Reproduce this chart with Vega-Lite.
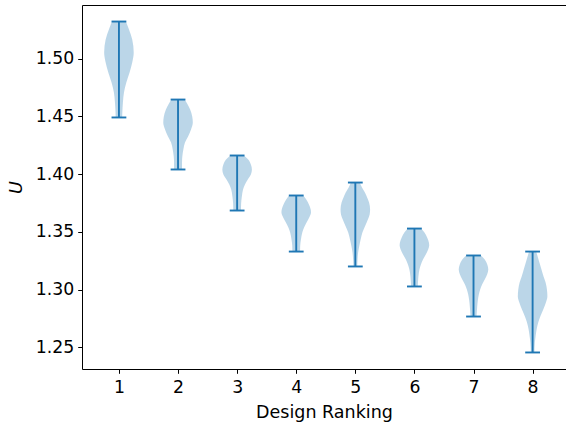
{
  "$schema": "https://vega.github.io/schema/vega-lite/v6.json",
  "width": 484,
  "height": 364,
  "autosize": {"type": "none"},
  "padding": {"left": 82, "top": 5, "right": 0, "bottom": 55},
  "config": {
    "font": "DejaVu Sans",
    "view": {"stroke": null},
    "axis": {
      "grid": false,
      "domainColor": "#000000",
      "domainWidth": 1,
      "tickColor": "#000000",
      "tickWidth": 1,
      "tickSize": 4.3,
      "labelFont": "DejaVu Sans",
      "labelFontSize": 17.3,
      "labelColor": "#000000",
      "labelPadding": 4,
      "titleFont": "DejaVu Sans",
      "titleFontSize": 17.5,
      "titleFontWeight": "normal",
      "titleColor": "#000000"
    }
  },
  "datasets": {
    "violins": [
      {"rank": 1, "u": 1.4490, "d": 0.22}, {"rank": 1, "u": 1.4533, "d": 0.23}, {"rank": 1, "u": 1.4619, "d": 0.27},
      {"rank": 1, "u": 1.4706, "d": 0.34}, {"rank": 1, "u": 1.4792, "d": 0.50}, {"rank": 1, "u": 1.4879, "d": 0.72},
      {"rank": 1, "u": 1.4965, "d": 0.90}, {"rank": 1, "u": 1.5052, "d": 1.00}, {"rank": 1, "u": 1.5164, "d": 0.90},
      {"rank": 1, "u": 1.5251, "d": 0.68}, {"rank": 1, "u": 1.5320, "d": 0.47},
      {"rank": 2, "u": 1.4040, "d": 0.27}, {"rank": 2, "u": 1.4100, "d": 0.27}, {"rank": 2, "u": 1.4152, "d": 0.29},
      {"rank": 2, "u": 1.4213, "d": 0.36}, {"rank": 2, "u": 1.4273, "d": 0.47}, {"rank": 2, "u": 1.4325, "d": 0.68},
      {"rank": 2, "u": 1.4386, "d": 0.88}, {"rank": 2, "u": 1.4446, "d": 1.00}, {"rank": 2, "u": 1.4498, "d": 0.96},
      {"rank": 2, "u": 1.4559, "d": 0.82}, {"rank": 2, "u": 1.4602, "d": 0.65}, {"rank": 2, "u": 1.4645, "d": 0.45},
      {"rank": 3, "u": 1.3685, "d": 0.26}, {"rank": 3, "u": 1.3746, "d": 0.27}, {"rank": 3, "u": 1.3806, "d": 0.32},
      {"rank": 3, "u": 1.3867, "d": 0.40}, {"rank": 3, "u": 1.3910, "d": 0.53}, {"rank": 3, "u": 1.3953, "d": 0.72},
      {"rank": 3, "u": 1.3997, "d": 0.93}, {"rank": 3, "u": 1.4040, "d": 1.00}, {"rank": 3, "u": 1.4083, "d": 0.93},
      {"rank": 3, "u": 1.4126, "d": 0.75}, {"rank": 3, "u": 1.4161, "d": 0.45},
      {"rank": 4, "u": 1.3330, "d": 0.26}, {"rank": 4, "u": 1.3382, "d": 0.27}, {"rank": 4, "u": 1.3434, "d": 0.32},
      {"rank": 4, "u": 1.3495, "d": 0.41}, {"rank": 4, "u": 1.3538, "d": 0.53}, {"rank": 4, "u": 1.3581, "d": 0.70},
      {"rank": 4, "u": 1.3625, "d": 0.88}, {"rank": 4, "u": 1.3668, "d": 1.00}, {"rank": 4, "u": 1.3694, "d": 0.98},
      {"rank": 4, "u": 1.3737, "d": 0.86}, {"rank": 4, "u": 1.3780, "d": 0.68}, {"rank": 4, "u": 1.3815, "d": 0.48},
      {"rank": 5, "u": 1.3201, "d": 0.13}, {"rank": 5, "u": 1.3261, "d": 0.15}, {"rank": 5, "u": 1.3322, "d": 0.19},
      {"rank": 5, "u": 1.3374, "d": 0.26}, {"rank": 5, "u": 1.3434, "d": 0.36}, {"rank": 5, "u": 1.3495, "d": 0.48},
      {"rank": 5, "u": 1.3547, "d": 0.65}, {"rank": 5, "u": 1.3607, "d": 0.85}, {"rank": 5, "u": 1.3650, "d": 0.97},
      {"rank": 5, "u": 1.3694, "d": 1.00}, {"rank": 5, "u": 1.3754, "d": 0.93}, {"rank": 5, "u": 1.3798, "d": 0.80},
      {"rank": 5, "u": 1.3841, "d": 0.65}, {"rank": 5, "u": 1.3884, "d": 0.45}, {"rank": 5, "u": 1.3927, "d": 0.30},
      {"rank": 6, "u": 1.3028, "d": 0.23}, {"rank": 6, "u": 1.3062, "d": 0.24}, {"rank": 6, "u": 1.3114, "d": 0.27},
      {"rank": 6, "u": 1.3175, "d": 0.34}, {"rank": 6, "u": 1.3218, "d": 0.44}, {"rank": 6, "u": 1.3261, "d": 0.58},
      {"rank": 6, "u": 1.3304, "d": 0.77}, {"rank": 6, "u": 1.3348, "d": 0.93}, {"rank": 6, "u": 1.3382, "d": 1.00},
      {"rank": 6, "u": 1.3408, "d": 0.98}, {"rank": 6, "u": 1.3452, "d": 0.86}, {"rank": 6, "u": 1.3495, "d": 0.68},
      {"rank": 6, "u": 1.3529, "d": 0.45},
      {"rank": 7, "u": 1.2768, "d": 0.20}, {"rank": 7, "u": 1.2803, "d": 0.22}, {"rank": 7, "u": 1.2855, "d": 0.25},
      {"rank": 7, "u": 1.2915, "d": 0.30}, {"rank": 7, "u": 1.2958, "d": 0.36}, {"rank": 7, "u": 1.3002, "d": 0.45},
      {"rank": 7, "u": 1.3045, "d": 0.58}, {"rank": 7, "u": 1.3088, "d": 0.76}, {"rank": 7, "u": 1.3131, "d": 0.92},
      {"rank": 7, "u": 1.3175, "d": 1.00}, {"rank": 7, "u": 1.3218, "d": 0.93}, {"rank": 7, "u": 1.3261, "d": 0.76},
      {"rank": 7, "u": 1.3296, "d": 0.50},
      {"rank": 8, "u": 1.2457, "d": 0.12}, {"rank": 8, "u": 1.2543, "d": 0.15}, {"rank": 8, "u": 1.2595, "d": 0.20},
      {"rank": 8, "u": 1.2656, "d": 0.27}, {"rank": 8, "u": 1.2716, "d": 0.38}, {"rank": 8, "u": 1.2768, "d": 0.52},
      {"rank": 8, "u": 1.2829, "d": 0.72}, {"rank": 8, "u": 1.2889, "d": 0.90}, {"rank": 8, "u": 1.2941, "d": 1.00},
      {"rank": 8, "u": 1.3002, "d": 0.97}, {"rank": 8, "u": 1.3062, "d": 0.88}, {"rank": 8, "u": 1.3114, "d": 0.74},
      {"rank": 8, "u": 1.3175, "d": 0.60}, {"rank": 8, "u": 1.3235, "d": 0.46}, {"rank": 8, "u": 1.3287, "d": 0.34},
      {"rank": 8, "u": 1.3330, "d": 0.24}
    ],
    "stats": [
      {"rank": 1, "min": 1.4490, "max": 1.5320},
      {"rank": 2, "min": 1.4040, "max": 1.4645},
      {"rank": 3, "min": 1.3685, "max": 1.4161},
      {"rank": 4, "min": 1.3330, "max": 1.3815},
      {"rank": 5, "min": 1.3201, "max": 1.3927},
      {"rank": 6, "min": 1.3028, "max": 1.3529},
      {"rank": 7, "min": 1.2768, "max": 1.3296},
      {"rank": 8, "min": 1.2457, "max": 1.3330}
    ]
  },
  "resolve": {"axis": {"x": "independent"}},
  "layer": [
    {
      "data": {"name": "violins"},
      "transform": [
        {"calculate": "datum.rank - 0.25 * datum.d", "as": "lo"},
        {"calculate": "datum.rank + 0.25 * datum.d", "as": "hi"}
      ],
      "mark": {"type": "area", "orient": "horizontal", "color": "#1f77b4", "opacity": 0.3, "interpolate": "monotone"},
      "encoding": {
        "y": {"field": "u", "type": "quantitative", "title": "U",
              "scale": {"domain": [1.2314, 1.5463], "nice": false, "zero": false},
              "axis": {"values": [1.25, 1.3, 1.35, 1.4, 1.45, 1.5], "format": ".2f", "titleFontStyle": "italic", "titlePadding": 10}},
        "x": {"field": "lo", "type": "quantitative", "title": "Design Ranking",
              "scale": {"domain": [0.375, 8.565], "nice": false, "zero": false},
              "axis": {"values": [1, 2, 3, 4, 5, 6, 7, 8], "format": "d", "labelPadding": 5, "titlePadding": 8}},
        "x2": {"field": "hi"},
        "detail": {"field": "rank"}
      }
    },
    {
      "data": {"name": "stats"},
      "mark": {"type": "rule", "color": "#1f77b4", "strokeWidth": 1.9},
      "encoding": {
        "x": {"field": "rank", "type": "quantitative", "title": null,
              "axis": {"orient": "top", "labels": false, "ticks": false, "domain": true, "title": null}},
        "y": {"field": "min", "type": "quantitative", "title": "U"},
        "y2": {"field": "max"}
      }
    },
    {
      "data": {"name": "stats"},
      "mark": {"type": "tick", "orient": "horizontal", "color": "#1f77b4", "size": 14.8, "thickness": 1.9, "opacity": 1},
      "encoding": {
        "x": {"field": "rank", "type": "quantitative", "axis": null},
        "y": {"field": "min", "type": "quantitative", "title": "U"}
      }
    },
    {
      "data": {"name": "stats"},
      "mark": {"type": "tick", "orient": "horizontal", "color": "#1f77b4", "size": 14.8, "thickness": 1.9, "opacity": 1},
      "encoding": {
        "x": {"field": "rank", "type": "quantitative", "axis": null},
        "y": {"field": "max", "type": "quantitative", "title": "U"}
      }
    }
  ]
}
